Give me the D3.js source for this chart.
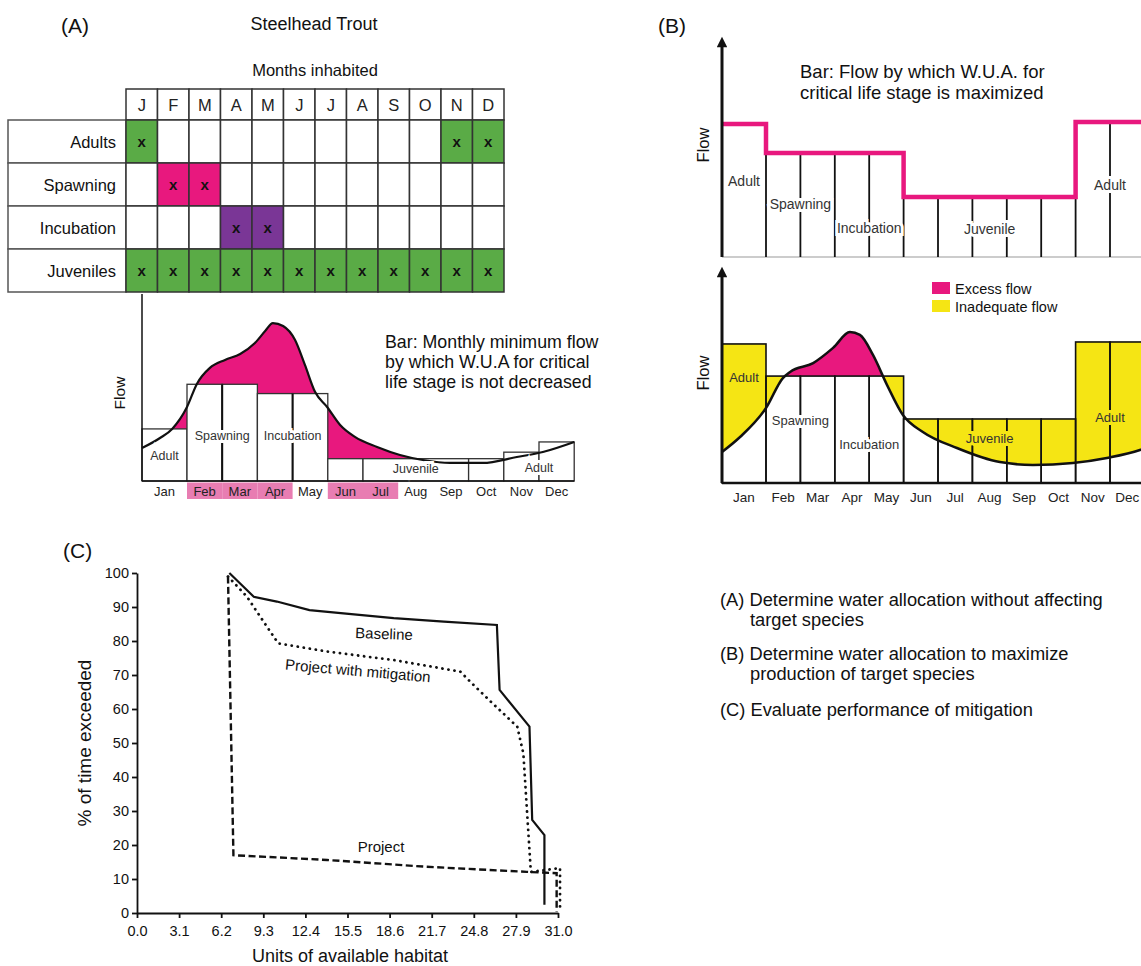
<!DOCTYPE html>
<html>
<head>
<meta charset="utf-8">
<script src="https://cdn.jsdelivr.net/npm/d3@7"></script>
<style>
body { margin: 0; background: #fff; }
svg { display: block; font-family: "Liberation Sans", Arial, sans-serif; }
</style>
</head>
<body>
<script>
// ---------- data ----------
var months = ["Jan", "Feb", "Mar", "Apr", "May", "Jun", "Jul", "Aug", "Sep", "Oct", "Nov", "Dec"];
var monthLetters = ["J", "F", "M", "A", "M", "J", "J", "A", "S", "O", "N", "D"];

var lifeStages = ["Adults", "Spawning", "Incubation", "Juveniles"];
var adultsInhabited     = [1, 0, 0, 0, 0, 0, 0, 0, 0, 0, 1, 1];
var spawningInhabited   = [0, 1, 1, 0, 0, 0, 0, 0, 0, 0, 0, 0];
var incubationInhabited = [0, 0, 0, 1, 1, 0, 0, 0, 0, 0, 0, 0];
var juvenilesInhabited  = [1, 1, 1, 1, 1, 1, 1, 1, 1, 1, 1, 1];

// critical life stage per block of months
var stageNames = ["Adult", "Spawning", "Incubation", "Juvenile", "Adult"];
var stageStart = [0, 1, 3, 5, 10];
var stageEnd   = [1, 3, 5, 10, 12];

// (A) monthly minimum flow (bars) and natural hydrograph
var minFlowA = [28, 52, 52, 47, 47, 12, 12, 12, 12, 12, 15.5, 21];
var mergedMonthsA = [[6, 9]];               // Jul-Sep drawn as one bar
var highlightedMonthsA = [1, 2, 3, 5, 6];   // Feb Mar Apr, Jun Jul
var hydroMonthA = [0, 0.4, 0.67, 1.0, 1.28, 1.65, 2.08, 2.51, 2.93, 3.22, 3.44, 3.73, 4.07, 4.35, 4.64, 4.98, 5.35, 5.77, 6.40, 7.05, 7.70, 8.47, 9.40, 10.37, 11.11, 12.0];
var hydroFlowA  = [17.7, 23.1, 28.0, 39.8, 52.2, 60.8, 65.1, 68.3, 74.2, 80.6, 84.9, 83.3, 75.8, 62.4, 47.8, 39.8, 30.1, 23.7, 18.3, 14.0, 11.3, 9.7, 9.7, 12.9, 15.6, 21];

// (B) flow maximizing W.U.A., and the same bars against the hydrograph
var maxFlowB  = [60.5, 47.3, 47.3, 47.3, 47.3, 27.3, 27.3, 27.3, 27.3, 27.3, 61.4, 61.4];
var maxFlowB2 = [63.2, 48.6, 48.6, 48.6, 48.6, 29.1, 29.1, 29.1, 29.1, 29.1, 64.1, 64.1];
var hydroMonthB = [0, 0.41, 1.0, 1.49, 1.70, 2.37, 2.95, 3.44, 3.73, 4.11, 4.52, 4.98, 5.56, 6.55, 7.80, 8.76, 9.92, 10.91, 11.87, 12.2];
var hydroFlowB  = [14.1, 20.9, 34.1, 47.7, 50.5, 54.5, 61.4, 68.6, 67.3, 58.2, 44.5, 30.9, 23.2, 15.9, 9.5, 8.2, 9.1, 11.4, 15, 17];
var legendLabels = ["Excess flow", "Inadequate flow"];

// (C) habitat duration curves
var habitatTicks = [0, 3.1, 6.2, 9.3, 12.4, 15.5, 18.6, 21.7, 24.8, 27.9, 31.0];
var exceedTicks = [0, 10, 20, 30, 40, 50, 60, 70, 80, 90, 100];
var baselineHabitat = [6.8, 8.6, 10.3, 12.7, 15.2, 18.9, 22.6, 26.5, 26.7, 28.9, 29.1, 30.0, 30.0];
var baselineExceed  = [100, 93, 91.6, 89.1, 88.1, 86.7, 85.7, 84.7, 65.6, 54.8, 27.4, 22.9, 2.4];
var mitigationHabitat = [6.7, 8.1, 9.1, 10.4, 14.0, 18.9, 23.8, 24.8, 26.2, 28.0, 28.45, 29.0, 31.15, 31.15];
var mitigationExceed  = [99, 93, 87, 79.3, 76.9, 74.4, 71, 67, 61.6, 54.8, 46.9, 12.1, 13.2, 1];
var projectHabitat = [6.7, 7.1, 14.0, 21.3, 28.7, 30.9, 30.9];
var projectExceed  = [99, 17, 15.6, 13.6, 12.1, 11.7, 0.4];

var notes = [
    ["(A) Determine water allocation without affecting", "target species"],
    ["(B) Determine water allocation to maximize", "production of target species"],
    ["(C) Evaluate performance of mitigation"]
];

// ---------- style ----------
var ink = "#111";
var pink = "#e8187e";
var green = "#5aab46";
var purple = "#7a3696";
var yellow = "#f5e514";
var lightPink = "#e87db2";

var svg = d3.select("body").append("svg")
    .attr("width", 1141)
    .attr("height", 966);

function monthScale(x0, janWidth, width) {
    var range = [x0];
    for (var i = 1; i <= 12; i++) range.push(x0 + janWidth + (i - 1) * width);
    return d3.scaleLinear().domain(d3.range(13)).range(range);
}

function addText(g, x, y, str, size, anchor) {
    return g.append("text")
        .attr("x", x)
        .attr("y", y)
        .attr("font-size", size)
        .attr("text-anchor", anchor || "start")
        .attr("fill", ink)
        .text(str);
}

// label that cuts the divider lines behind it
function stageLabel(g, x, y, str, halo, size) {
    g.append("text")
        .attr("x", x)
        .attr("y", y)
        .attr("text-anchor", "middle")
        .attr("dominant-baseline", "middle")
        .attr("font-size", size)
        .attr("fill", "#333")
        .attr("stroke", halo)
        .attr("stroke-width", 6)
        .attr("paint-order", "stroke")
        .text(str);
}

// ---------- (A) table ----------
var inhabited = [adultsInhabited, spawningInhabited, incubationInhabited, juvenilesInhabited];
var stageColors = [green, pink, purple, green];

var col = d3.scaleBand().domain(d3.range(12)).range([126, 504]);
var row = d3.scaleBand().domain(lifeStages).range([120, 292]);
var table = svg.append("g");

addText(svg, 61, 33, "(A)", 21);
addText(svg, 314, 30, "Steelhead Trout", 18, "middle");
addText(svg, 315, 76, "Months inhabited", 16.5, "middle");

table.selectAll(null)
    .data(monthLetters)
    .join("rect")
        .attr("x", function(d, i) { return col(i); })
        .attr("y", 89)
        .attr("width", col.bandwidth())
        .attr("height", 31)
        .attr("fill", "#fff")
        .attr("stroke", "#333")
        .attr("stroke-width", 1.5)

table.selectAll(null)
    .data(monthLetters)
    .join("text")
        .attr("x", function(d, i) { return col(i) + col.bandwidth() / 2; })
        .attr("y", 111)
        .attr("text-anchor", "middle")
        .attr("font-size", 16.5)
        .attr("fill", "#222")
        .text(function(d) { return d; })

table.selectAll(null)
    .data(lifeStages)
    .join("rect")
        .attr("x", 8)
        .attr("y", function(d) { return row(d); })
        .attr("width", 118)
        .attr("height", row.bandwidth())
        .attr("fill", "#fff")
        .attr("stroke", "#555")
        .attr("stroke-width", 1.5)

table.selectAll(null)
    .data(lifeStages)
    .join("text")
        .attr("x", 116)
        .attr("y", function(d) { return row(d) + row.bandwidth() / 2 + 6; })
        .attr("text-anchor", "end")
        .attr("font-size", 16.5)
        .attr("fill", ink)
        .text(function(d) { return d; })

lifeStages.forEach(function(stage, r) {
    var cells = table.selectAll(null)
        .data(inhabited[r])
        .join("g")
            .attr("transform", function(d, i) { return "translate(" + col(i) + "," + row(stage) + ")"; })

    cells.append("rect")
        .attr("width", col.bandwidth())
        .attr("height", row.bandwidth())
        .attr("fill", function(d) { return d ? stageColors[r] : "#fff"; })
        .attr("stroke", "#333")
        .attr("stroke-width", 1.5)

    cells.filter(function(d) { return d; })
        .append("text")
            .attr("x", col.bandwidth() / 2)
            .attr("y", row.bandwidth() / 2 + 5)
            .attr("text-anchor", "middle")
            .attr("font-size", 15)
            .attr("font-weight", "bold")
            .attr("fill", ink)
            .text("x")
});

// ---------- (A) minimum flow chart ----------
var xA = monthScale(142, 45, 35.2);
var yA = d3.scaleLinear().domain([0, 100]).range([481, 295]);
var gA = svg.append("g");
var hydroA = d3.zip(hydroMonthA, hydroFlowA);

var lineA = d3.line()
    .x(function(d) { return xA(d[0]); })
    .y(function(d) { return yA(d[1]); })
    .curve(d3.curveMonotoneX);
var areaA = d3.area()
    .x(function(d) { return xA(d[0]); })
    .y0(yA(0))
    .y1(function(d) { return yA(d[1]); })
    .curve(d3.curveMonotoneX);

gA.append("path").datum(hydroA).attr("d", areaA).attr("fill", pink);

var barsA = [];
for (var m = 0; m < 12; m++) {
    var merge = mergedMonthsA.find(function(r) { return r[0] === m; });
    var end = merge ? merge[1] : m + 1;
    barsA.push({ start: m, end: end, flow: minFlowA[m] });
    m = end - 1;
}

gA.selectAll(null)
    .data(barsA)
    .join("rect")
        .attr("x", function(d) { return xA(d.start); })
        .attr("y", function(d) { return yA(d.flow); })
        .attr("width", function(d) { return xA(d.end) - xA(d.start); })
        .attr("height", function(d) { return yA(0) - yA(d.flow); })
        .attr("fill", "#fff")
        .attr("stroke", "#333")
        .attr("stroke-width", 1.3)

// inner dividers of the two-month bars
gA.selectAll(null)
    .data([2, 4])
    .join("line")
        .attr("x1", function(d) { return xA(d); })
        .attr("x2", function(d) { return xA(d); })
        .attr("y1", function(d) { return yA(minFlowA[d]); })
        .attr("y2", yA(0))
        .attr("stroke", ink)
        .attr("stroke-width", 2)

gA.append("path").datum(hydroA).attr("d", lineA)
    .attr("fill", "none").attr("stroke", ink).attr("stroke-width", 2.2);

var labelYA = [457, 437, 437, 470, 469];
stageNames.forEach(function(name, i) {
    stageLabel(gA, (xA(stageStart[i]) + xA(stageEnd[i])) / 2, labelYA[i], name, "#fff", 12.5);
});

gA.append("line").attr("x1", 142).attr("x2", 142).attr("y1", 294).attr("y2", yA(0))
    .attr("stroke", ink).attr("stroke-width", 1.5);
gA.append("line").attr("x1", 142).attr("x2", xA(12)).attr("y1", yA(0)).attr("y2", yA(0))
    .attr("stroke", ink).attr("stroke-width", 1.5);

gA.selectAll(null)
    .data(highlightedMonthsA)
    .join("rect")
        .attr("x", function(d) { return xA(d); })
        .attr("y", 482.5)
        .attr("width", function(d) { return xA(d + 1) - xA(d); })
        .attr("height", 16.5)
        .attr("fill", lightPink)

gA.selectAll(null)
    .data(months)
    .join("text")
        .attr("x", function(d, i) { return (xA(i) + xA(i + 1)) / 2; })
        .attr("y", 496)
        .attr("text-anchor", "middle")
        .attr("font-size", 13)
        .attr("fill", "#222")
        .text(function(d) { return d; })

addText(gA, 120, 393, "Flow", 15.5, "middle").attr("transform", "rotate(-90,120,393)").attr("dy", "0.35em");
["Bar: Monthly minimum flow", "by which W.U.A for critical", "life stage is not decreased"].forEach(function(t, i) {
    addText(gA, 385, 348 + i * 20, t, 17.8);
});

// ---------- (B) ----------
var xB = monthScale(722, 44, 34.4);
var yBt = d3.scaleLinear().domain([0, 100]).range([257, 37]);
var yBb = d3.scaleLinear().domain([0, 100]).range([483, 263]);
var gB = svg.append("g");

svg.append("defs").append("marker")
    .attr("id", "arrow")
    .attr("viewBox", "0 0 10 10")
    .attr("refX", 5).attr("refY", 5)
    .attr("markerWidth", 4).attr("markerHeight", 3.5)
    .attr("orient", "auto")
    .append("path").attr("d", "M0,0 L10,5 L0,10 Z").attr("fill", ink);

addText(svg, 658, 33, "(B)", 21);

// top: step line of maximizing flow
gB.append("line").attr("x1", 722).attr("x2", 1141).attr("y1", yBt(0)).attr("y2", yBt(0))
    .attr("stroke", "#999").attr("stroke-width", 1);

gB.selectAll(null)
    .data(d3.range(1, 12))
    .join("line")
        .attr("x1", function(d) { return xB(d); })
        .attr("x2", function(d) { return xB(d); })
        .attr("y1", function(d) { return yBt(Math.min(maxFlowB[d - 1], maxFlowB[d])); })
        .attr("y2", yBt(0))
        .attr("stroke", ink)
        .attr("stroke-width", 1.8)

var labelYBt = [182, 205, 229, 230, 186];
stageNames.forEach(function(name, i) {
    stageLabel(gB, (xB(stageStart[i]) + xB(stageEnd[i])) / 2, labelYBt[i], name, "#fff", 14);
});

var stepB = d3.range(13).map(function(i) { return [i, maxFlowB[Math.min(i, 11)]]; });
gB.append("path")
    .datum(stepB)
    .attr("d", d3.line()
        .x(function(d) { return xB(d[0]); })
        .y(function(d) { return yBt(d[1]); })
        .curve(d3.curveStepAfter))
    .attr("fill", "none")
    .attr("stroke", pink)
    .attr("stroke-width", 4.5)

gB.append("line").attr("x1", 722).attr("x2", 722).attr("y1", yBt(0)).attr("y2", 42)
    .attr("stroke", ink).attr("stroke-width", 3).attr("marker-end", "url(#arrow)");

addText(gB, 703, 145, "Flow", 16.5, "middle").attr("transform", "rotate(-90,703,145)").attr("dy", "0.35em");
addText(gB, 800, 78, "Bar: Flow by which W.U.A. for", 18.5);
addText(gB, 800, 99, "critical life stage is maximized", 18.5);

// bottom: bars against hydrograph
var hydroB = d3.zip(hydroMonthB, hydroFlowB);
var barsB = d3.range(12).map(function(i) { return { start: i, end: i + 1, flow: maxFlowB2[i] }; });

function barRects(sel) {
    return sel
        .attr("x", function(d) { return xB(d.start); })
        .attr("y", function(d) { return yBb(d.flow); })
        .attr("width", function(d) { return xB(d.end) - xB(d.start); })
        .attr("height", function(d) { return yBb(0) - yBb(d.flow); });
}

gB.append("clipPath").attr("id", "barsB")
    .selectAll(null).data(barsB).join("rect").call(barRects);

gB.selectAll(null).data(barsB).join("rect").call(barRects).attr("fill", yellow);

var areaB = d3.area()
    .x(function(d) { return xB(d[0]); })
    .y0(yBb(0))
    .y1(function(d) { return yBb(d[1]); })
    .curve(d3.curveMonotoneX);
gB.append("path").datum(hydroB).attr("d", areaB).attr("fill", pink);
gB.append("path").datum(hydroB).attr("d", areaB).attr("fill", "#fff").attr("clip-path", "url(#barsB)");

gB.selectAll(null).data(barsB).join("rect").call(barRects)
    .attr("fill", "none").attr("stroke", ink).attr("stroke-width", 1.6);

gB.append("path").datum(hydroB)
    .attr("d", d3.line()
        .x(function(d) { return xB(d[0]); })
        .y(function(d) { return yBb(d[1]); })
        .curve(d3.curveMonotoneX))
    .attr("fill", "none").attr("stroke", ink).attr("stroke-width", 2.5);

var labelYBb = [379, 422, 446, 440, 419];
var haloBb = [yellow, "#fff", "#fff", yellow, yellow];
stageNames.forEach(function(name, i) {
    stageLabel(gB, (xB(stageStart[i]) + xB(stageEnd[i])) / 2, labelYBb[i], name, haloBb[i], 13);
});

gB.append("line").attr("x1", 722).attr("x2", 1141).attr("y1", yBb(0)).attr("y2", yBb(0))
    .attr("stroke", ink).attr("stroke-width", 2.5);
gB.append("line").attr("x1", 722).attr("x2", 722).attr("y1", yBb(0)).attr("y2", 272)
    .attr("stroke", ink).attr("stroke-width", 3).attr("marker-end", "url(#arrow)");

gB.selectAll(null)
    .data(months)
    .join("text")
        .attr("x", function(d, i) { return (xB(i) + xB(i + 1)) / 2; })
        .attr("y", 502)
        .attr("text-anchor", "middle")
        .attr("font-size", 13.5)
        .attr("fill", "#222")
        .text(function(d) { return d; })

addText(gB, 703, 373, "Flow", 16.5, "middle").attr("transform", "rotate(-90,703,373)").attr("dy", "0.35em");

var legend = gB.selectAll(null)
    .data(legendLabels)
    .join("g")
        .attr("transform", function(d, i) { return "translate(932," + (282 + i * 18) + ")"; })
legend.append("rect").attr("width", 18).attr("height", 12)
    .attr("fill", function(d, i) { return i ? yellow : pink; });
legend.append("text").attr("x", 23).attr("y", 11.5).attr("font-size", 14.5).attr("fill", ink)
    .text(function(d) { return d; });

// ---------- (C) ----------
var xC = d3.scaleLinear().domain([0, 31]).range([137, 558]);
var yC = d3.scaleLinear().domain([0, 100]).range([913, 573]);
var gC = svg.append("g");

addText(svg, 63, 558, "(C)", 21);

var axisX = gC.append("g")
    .attr("transform", "translate(0," + yC(0) + ")")
    .call(d3.axisBottom(xC).tickValues(habitatTicks).tickFormat(d3.format(".1f")).tickSize(5).tickSizeOuter(0));
var axisY = gC.append("g")
    .attr("transform", "translate(" + xC(0) + ",0)")
    .call(d3.axisLeft(yC).tickValues(exceedTicks).tickSize(5).tickSizeOuter(0));

[axisX, axisY].forEach(function(ax) {
    ax.selectAll("path, line").attr("stroke", ink).attr("stroke-width", 1.8);
    ax.selectAll("text").attr("font-size", 14.5).attr("fill", ink)
        .attr("font-family", "Liberation Sans, Arial, sans-serif");
});
axisX.selectAll("text").attr("dy", "1.0em");

var lineC = d3.line()
    .x(function(d) { return xC(d[0]); })
    .y(function(d) { return yC(d[1]); });

gC.append("path").datum(d3.zip(projectHabitat, projectExceed)).attr("d", lineC)
    .attr("fill", "none").attr("stroke", ink).attr("stroke-width", 2.4)
    .attr("stroke-dasharray", "7,3.5");
gC.append("path").datum(d3.zip(mitigationHabitat, mitigationExceed)).attr("d", lineC)
    .attr("fill", "none").attr("stroke", ink).attr("stroke-width", 2.8)
    .attr("stroke-linecap", "round").attr("stroke-dasharray", "0.1,6");
gC.append("path").datum(d3.zip(baselineHabitat, baselineExceed)).attr("d", lineC)
    .attr("fill", "none").attr("stroke", ink).attr("stroke-width", 2.2);

addText(gC, 384, 639, "Baseline", 15, "middle").attr("transform", "rotate(2,384,634)");
addText(gC, 358, 676, "Project with mitigation", 15, "middle").attr("transform", "rotate(5,358,670)");
addText(gC, 381, 852, "Project", 15, "middle");

addText(gC, 84, 743, "% of time exceeded", 19, "middle")
    .attr("transform", "rotate(-90,84,743)").attr("dy", "0.35em");
addText(gC, 350, 962, "Units of available habitat", 18, "middle");

// ---------- notes ----------
var noteY = [606, 660, 716];
notes.forEach(function(lines, i) {
    lines.forEach(function(t, j) {
        addText(svg, j ? 750 : 720, noteY[i] + j * 20, t, 18.3);
    });
});
</script>
</body>
</html>
